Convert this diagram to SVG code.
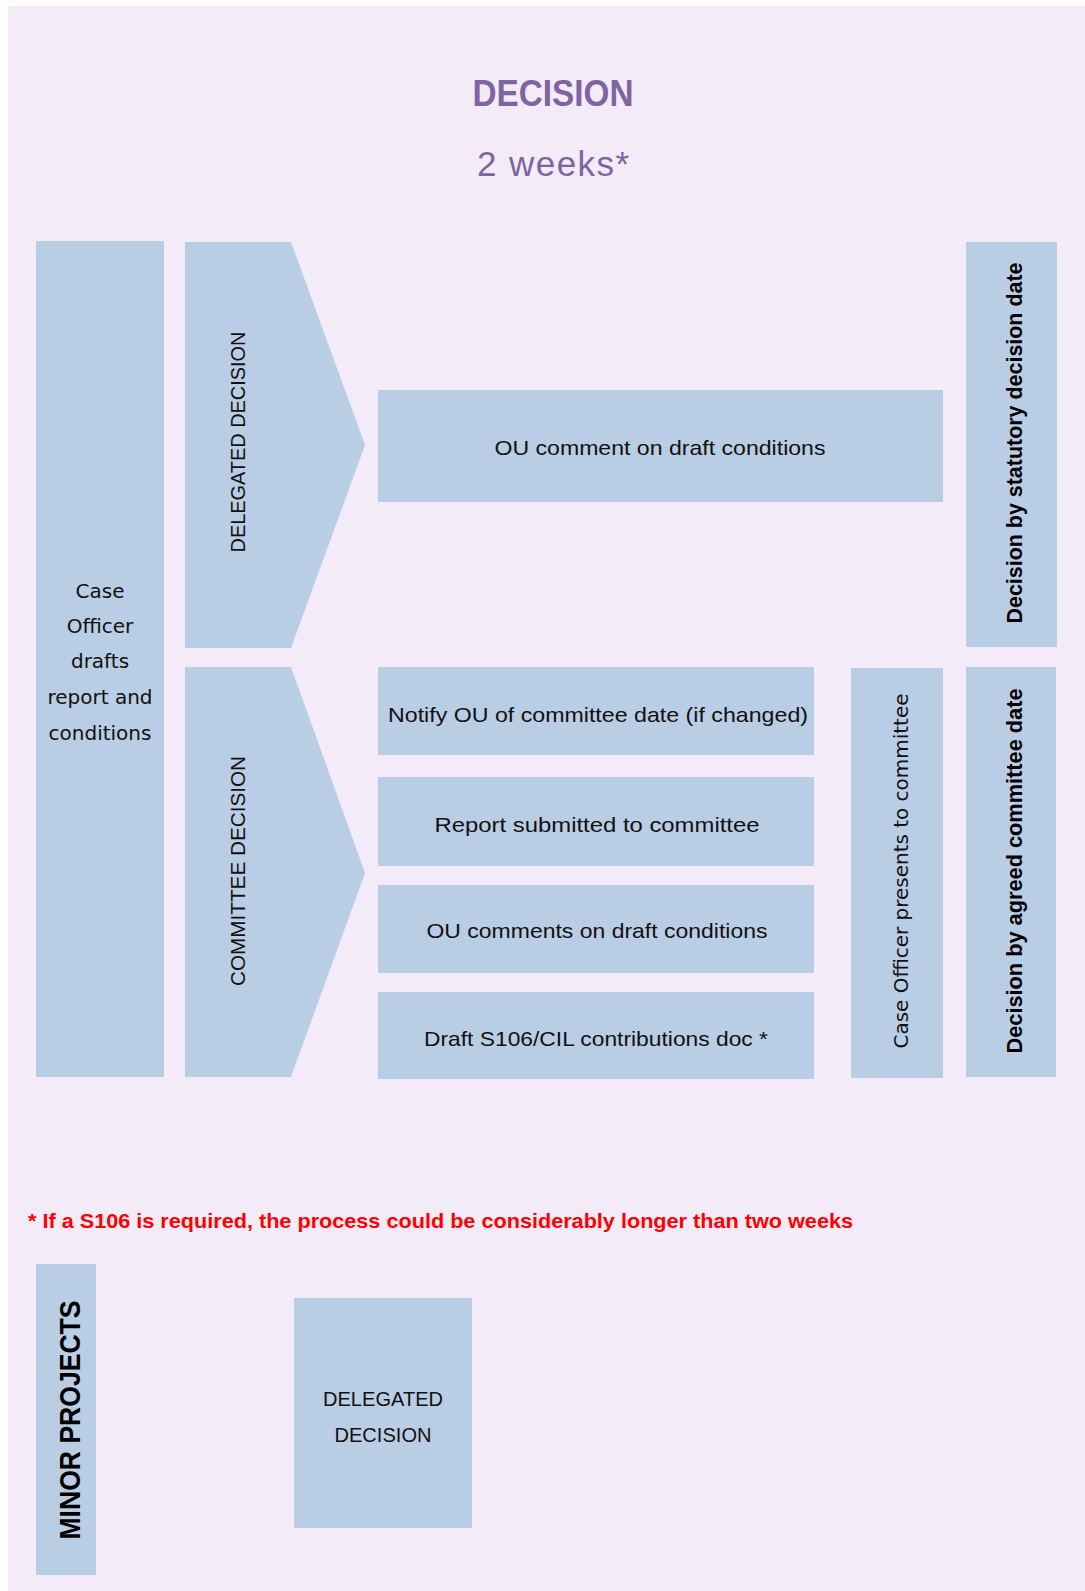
<svg xmlns="http://www.w3.org/2000/svg" width="1085" height="1591" viewBox="0 0 1085 1591">
<style>
.box{fill:#B9CDE5;}
.t{font-family:"Liberation Sans",Arial,sans-serif;font-size:21px;fill:#111;text-anchor:middle;}
.v{font-family:"DejaVu Sans",Verdana,sans-serif;font-size:20px;fill:#111;text-anchor:middle;}
.b{font-family:"Liberation Sans",Arial,sans-serif;font-weight:bold;fill:#000;text-anchor:middle;}
.title{font-family:"Liberation Sans",Arial,sans-serif;fill:#8064A2;text-anchor:middle;}
</style>
<rect x="0" y="0" width="1085" height="1591" fill="#FFFFFF"/>
<rect x="8" y="6" width="1077" height="1585" fill="#F3EBF7"/>

<g id="title">
<text class="title" x="553" y="106" font-size="36" font-weight="bold" textLength="161" lengthAdjust="spacingAndGlyphs">DECISION</text>
<text class="title" x="553" y="176" font-size="35" textLength="152" lengthAdjust="spacing">2 weeks*</text>
</g>

<g id="connectors"></g>

<g id="case-officer-drafts">
<rect class="box" x="36" y="241" width="128" height="836"/>
<text class="v" x="100" y="598">Case</text>
<text class="v" x="100" y="633">Officer</text>
<text class="v" x="100" y="668">drafts</text>
<text class="v" x="100" y="704">report and</text>
<text class="v" x="100" y="740">conditions</text>
</g>

<g id="delegated-decision">
<polygon class="box" points="185,242 291,242 365,445 291,648 185,648"/>
<text class="t" x="245" y="442" transform="rotate(-90 245 442)" textLength="221" lengthAdjust="spacingAndGlyphs">DELEGATED DECISION</text>
</g>

<g id="committee-decision">
<polygon class="box" points="185,667 291,667 365,873 291,1077 185,1077"/>
<text class="t" x="245" y="871" transform="rotate(-90 245 871)" textLength="230" lengthAdjust="spacingAndGlyphs">COMMITTEE DECISION</text>
</g>

<g id="ou-comment">
<rect class="box" x="378" y="390" width="565" height="112"/>
<text class="t" x="660" y="455" textLength="331" lengthAdjust="spacingAndGlyphs">OU comment on draft conditions</text>
</g>

<g id="notify-ou">
<rect class="box" x="378" y="667" width="436" height="88"/>
<text class="t" x="598" y="722" textLength="420" lengthAdjust="spacingAndGlyphs">Notify OU of committee date (if changed)</text>
</g>

<g id="report-submitted">
<rect class="box" x="378" y="777" width="436" height="89"/>
<text class="t" x="597" y="832" textLength="325" lengthAdjust="spacingAndGlyphs">Report submitted to  committee</text>
</g>

<g id="ou-comments">
<rect class="box" x="378" y="885" width="436" height="88"/>
<text class="t" x="597" y="938" textLength="341" lengthAdjust="spacingAndGlyphs">OU comments on draft conditions</text>
</g>

<g id="draft-s106">
<rect class="box" x="378" y="992" width="436" height="87"/>
<text class="t" x="596" y="1046" textLength="344" lengthAdjust="spacingAndGlyphs">Draft S106/CIL contributions doc *</text>
</g>

<g id="case-officer-presents">
<rect class="box" x="851" y="668" width="92" height="410"/>
<text class="v" x="908" y="871" transform="rotate(-90 908 871)" textLength="355" lengthAdjust="spacingAndGlyphs">Case Officer presents to committee</text>
</g>

<g id="decision-statutory">
<rect class="box" x="966" y="242" width="91" height="405"/>
<text class="b" x="1022" y="443" font-size="21.5" transform="rotate(-90 1022 443)" textLength="361" lengthAdjust="spacingAndGlyphs">Decision by statutory decision date</text>
</g>

<g id="decision-committee">
<rect class="box" x="966" y="667" width="90" height="410"/>
<text class="b" x="1022" y="871" font-size="21.5" transform="rotate(-90 1022 871)" textLength="365" lengthAdjust="spacingAndGlyphs">Decision by agreed committee date</text>
</g>

<g id="note">
<text x="28" y="1228" font-family="'Liberation Sans',Arial,sans-serif" font-weight="bold" font-size="21" fill="#FF0000" textLength="825" lengthAdjust="spacingAndGlyphs">* If a S106 is required, the process could be considerably longer than two weeks</text>
</g>

<g id="minor-projects">
<rect class="box" x="36" y="1264" width="60" height="311"/>
<text class="b" x="80" y="1420" font-size="30" transform="rotate(-90 80 1420)" textLength="239" lengthAdjust="spacingAndGlyphs">MINOR PROJECTS</text>
</g>

<g id="minor-delegated">
<rect class="box" x="294" y="1298" width="178" height="230"/>
<text class="t" x="383" y="1406" textLength="120" lengthAdjust="spacingAndGlyphs">DELEGATED</text>
<text class="t" x="383" y="1442" textLength="97" lengthAdjust="spacingAndGlyphs">DECISION</text>
</g>
</svg>
